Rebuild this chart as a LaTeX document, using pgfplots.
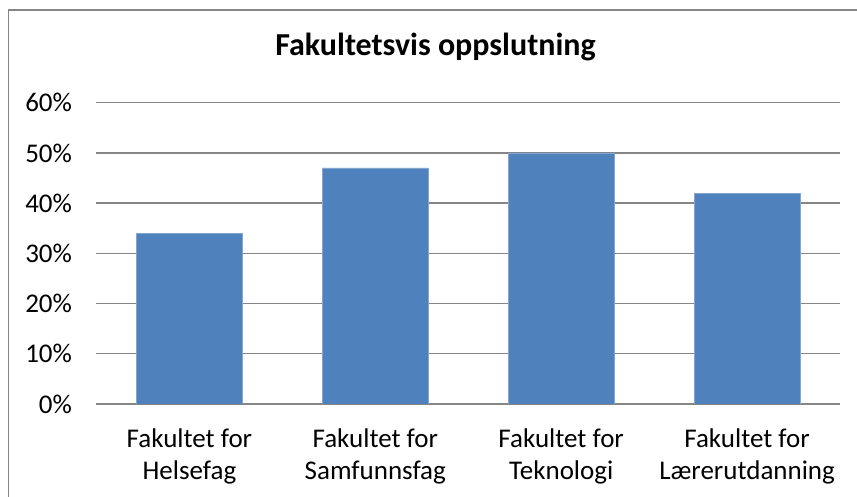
\documentclass[border=0pt]{standalone}
\usepackage{pgfplots}
\pgfplotsset{compat=1.18}
\usepackage{fontspec}
\setmainfont{Carlito}
\definecolor{barblue}{HTML}{4F81BD}
\definecolor{gridgray}{HTML}{868686}
\begin{document}
\begin{tikzpicture}[x=1pt,y=1pt]
\useasboundingbox (0,0) rectangle (857,497);
\draw[gridgray, line width=1.3pt] (8.5,0) -- (8.5,487) -- (857,487);
\node[font=\fontsize{32}{38}\selectfont\bfseries, anchor=base] at (435.5,441) {Fakultetsvis oppslutning};
\begin{axis}[
  at={(96.5pt,93pt)}, anchor=south west,
  scale only axis, width=743.5pt, height=301.3pt,
  xmin=-0.5, xmax=3.5, ymin=0, ymax=60,
  ytick={0,10,...,60},
  yticklabel={\pgfmathprintnumber{\tick}\%},
  /pgf/number format/assume math mode=true,
  xtick={0,1,2,3},
  xticklabels={{Fakultet for\\Helsefag},{Fakultet for\\Samfunnsfag},{Fakultet for\\Teknologi},{Fakultet for\\Lærerutdanning}},
  xticklabel style={align=center, font=\fontsize{27}{32}\selectfont, anchor=north, yshift=-21pt},
  yticklabel style={font=\fontsize{27}{32}\selectfont, anchor=east, xshift=-21pt},
  major tick length=0pt,
  axis x line=bottom, axis y line=left,
  x axis line style={-, draw=gridgray, line width=1.3pt},
  y axis line style={draw=none},
  ymajorgrids, grid style={gridgray, line width=1.3pt},
]
\addplot[ybar, bar width=106pt, fill=barblue, draw=barblue!70!white, line width=0.5pt] coordinates {(0,34) (1,47) (2,50) (3,42)};
\end{axis}
\end{tikzpicture}
\end{document}
